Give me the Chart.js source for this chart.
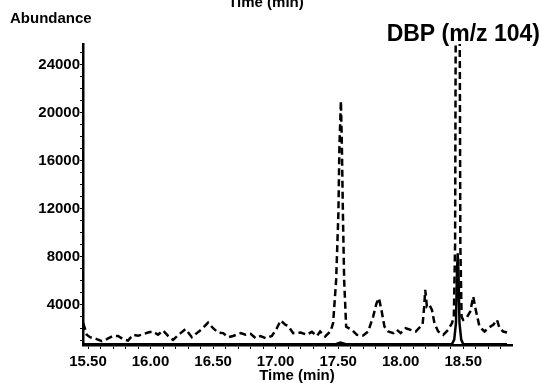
<!DOCTYPE html>
<html>
<head>
<meta charset="utf-8">
<style>
  html, body { margin: 0; padding: 0; background: #fff; }
  #wrap { width: 542px; height: 383px; position: relative; }
</style>
<script src="https://cdn.jsdelivr.net/npm/chart.js@4.4.1/dist/chart.umd.min.js"></script>
</head>
<body>
<div id="wrap"><canvas id="chart" width="542" height="383"></canvas></div>
<script>
'use strict';

// Traza discontinua: TIC
const ticTimes = [
  15.462, 15.49, 15.516, 15.57, 15.61, 15.65, 15.70, 15.74, 15.78, 15.82,
  15.86, 15.90, 15.94, 15.98, 16.02, 16.06, 16.10, 16.14, 16.18, 16.24,
  16.28, 16.33, 16.37, 16.41, 16.46, 16.50, 16.54, 16.58, 16.62, 16.66,
  16.72, 16.76, 16.80, 16.84, 16.88, 16.92, 16.97, 17.01, 17.04, 17.08,
  17.10, 17.14, 17.20, 17.25, 17.29, 17.33, 17.356, 17.396, 17.44, 17.46,
  17.484, 17.502, 17.51, 17.522, 17.53, 17.538, 17.548, 17.564, 17.61, 17.65,
  17.70, 17.74, 17.78, 17.807, 17.826, 17.846, 17.87, 17.90, 17.94, 17.97,
  18.00, 18.04, 18.08, 18.12, 18.15, 18.175, 18.188, 18.196, 18.21, 18.23,
  18.25, 18.27, 18.30, 18.34, 18.38, 18.41, 18.425, 18.435, 18.445, 18.456,
  18.467, 18.477, 18.487, 18.50, 18.53, 18.556, 18.58, 18.60, 18.63, 18.67,
  18.71, 18.74, 18.77, 18.79, 18.82, 18.85,
];
const ticValues = [
  2470, 1500, 1300, 1140, 970, 1140, 1415, 1400, 1140, 1025,
  1500, 1415, 1555, 1690, 1775, 1500, 1860, 1415, 1080, 1640,
  1970, 1300, 1640, 1970, 2520, 2050, 1690, 1640, 1300, 1400,
  1640, 1500, 1580, 1220, 1400, 1220, 1400, 2050, 2690, 2330,
  2250, 1640, 1690, 1500, 1750, 1400, 1775, 1360, 1800, 2500,
  6080, 11660, 17160, 21000, 17160, 11660, 6080, 2170, 1915, 1500,
  1440, 1775, 3020, 4140, 4560, 3580, 2190, 1775, 1640, 1915,
  1640, 2050, 1915, 1775, 2100, 2330, 3860, 5250, 3860, 4000,
  3580, 2470, 1775, 1500, 1915, 2470, 3000, 9000, 45000, 60000,
  45000, 9000, 3000, 2750, 2970, 3440, 4690, 3580, 2190, 1775,
  2140, 2330, 2750, 2050, 1775, 1690,
];

// Traza continua: ion m/z 104
const ionTimes = [15.46, 17.48, 17.52, 17.56, 18.41, 18.428, 18.442, 18.45, 18.456, 18.462, 18.47, 18.484, 18.50, 18.85];
const ionValues = [720, 720, 850, 720, 720, 1100, 2500, 6700, 8300, 6700, 2500, 1100, 720, 720];

// Ejes
const X_MIN = 15.46;
const X_MAX = 18.89;
const Y_MIN = 650;
const Y_MAX = 25750;
const X_LABELS = [15.5, 16.0, 16.5, 17.0, 17.5, 18.0, 18.5];
const Y_LABELS = [4000, 8000, 12000, 16000, 20000, 24000];
const Y_MINOR_STEP = 1000;

const FONT = "'Liberation Sans', Arial, Helvetica, sans-serif";

// ─── Utilidades ──────────────────────────────────────────────────────────────
const toPoints = (xs, ys) => xs.map((x, i) => ({ x, y: ys[i] }));
const isLabel = (v, list) => list.some(l => Math.abs(l - v) < 1e-6);

// marcas menores del eje Y alineadas a múltiplos de 1000
function yTicks() {
  const out = [];
  for (let v = Math.ceil(Y_MIN / Y_MINOR_STEP) * Y_MINOR_STEP; v <= Y_MAX; v += Y_MINOR_STEP) {
    out.push({ value: v });
  }
  return out;
}

// Textos fijos (títulos y etiqueta del pico)
const textPlugin = {
  id: 'textos',
  afterDraw(chart) {
    const ctx = chart.ctx;
    ctx.save();
    ctx.fillStyle = '#000';
    ctx.textBaseline = 'alphabetic';

    ctx.font = `bold 15px ${FONT}`;
    ctx.textAlign = 'left';
    ctx.fillText('Abundance', 10, 23);

    ctx.textAlign = 'center';
    ctx.fillText('Time (min)', 266, 7);
    ctx.fillText('Time (min)', 297, 380);

    ctx.font = `bold 23px ${FONT}`;
    ctx.textAlign = 'right';
    ctx.fillText('DBP (m/z 104)', 540, 41);
    ctx.restore();
  },
};

// ─── Gráfico ─────────────────────────────────────────────────────────────────
new Chart(document.getElementById('chart'), {
  type: 'line',
  data: {
    datasets: [
      {
        label: 'TIC',
        data: toPoints(ticTimes, ticValues),
        borderColor: '#000',
        borderWidth: 2.5,
        borderDash: [7, 4],
        pointRadius: 0,
        tension: 0,
        fill: false,
      },
      {
        label: 'DBP (m/z 104)',
        data: toPoints(ionTimes, ionValues),
        borderColor: '#000',
        borderWidth: 2.5,
        pointRadius: 0,
        tension: 0,
        fill: false,
      },
    ],
  },
  options: {
    responsive: false,
    animation: false,
    layout: { padding: { left: 0, right: 30, top: 44, bottom: 0 } },
    plugins: {
      legend: { display: false },
      tooltip: { enabled: false },
    },
    scales: {
      x: {
        type: 'linear',
        min: X_MIN,
        max: X_MAX,
        afterFit: s => { s.height = 38; },
        border: { display: true, color: '#000', width: 2.5 },
        grid: { drawOnChartArea: false, drawTicks: true, tickLength: 4, tickWidth: 1, tickColor: '#000' },
        ticks: {
          stepSize: 0.1,
          includeBounds: false,
          autoSkip: false,
          maxRotation: 0,
          minRotation: 0,
          padding: 4,
          color: '#000',
          font: { family: FONT, size: 15, weight: 'bold' },
          callback: v => (isLabel(v, X_LABELS) ? v.toFixed(2) : ''),
        },
      },
      y: {
        min: Y_MIN,
        max: Y_MAX,
        afterFit: s => { s.width = 83; },
        afterBuildTicks: s => { s.ticks = yTicks(); },
        border: { display: true, color: '#000', width: 2.5 },
        grid: { drawOnChartArea: false, drawTicks: true, tickLength: 3, tickWidth: 1, tickColor: '#000' },
        ticks: {
          autoSkip: false,
          padding: 0,
          color: '#000',
          font: { family: FONT, size: 15, weight: 'bold' },
          callback: v => (isLabel(v, Y_LABELS) ? String(v) : ''),
        },
      },
    },
  },
  plugins: [textPlugin],
});
</script>
</body>
</html>
